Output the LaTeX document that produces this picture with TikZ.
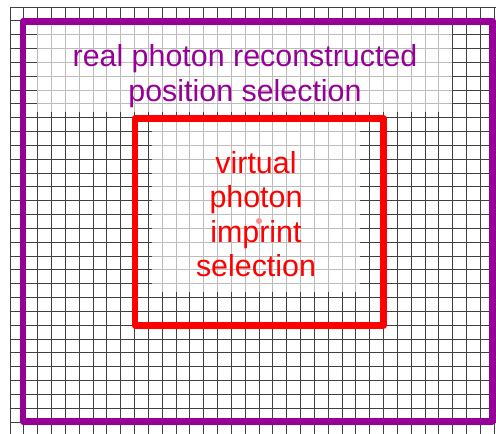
\documentclass[tikz,border=0pt]{standalone}
\usepackage{fontspec}
\setmainfont{Liberation Sans}
\usepackage{tikz}
\usetikzlibrary{positioning}
\usepackage{xcolor}
\definecolor{realcol}{RGB}{150,0,150}
\definecolor{virtcol}{RGB}{255,0,0}
\tikzset{
  gridln/.style={draw=black!75,line width=.7pt},
  haze/.style={fill=white,fill opacity=.65},
  selbox/.style={line width=6.5pt,line join=round},
  realbox/.style={selbox,draw=realcol},
  virtbox/.style={selbox,draw=virtcol},
  lbl/.style={align=center,inner sep=0pt,font=\fontsize{30.4}{34.4}\selectfont},
  reallbl/.style={lbl,text=realcol},
  virtlbl/.style={lbl,text=virtcol},
  ctrmark/.style={circle,fill=virtcol!45,inner sep=0pt,minimum size=6pt},
}

\begin{document}
\begin{tikzpicture}[x=1pt,y=-1pt]
  \useasboundingbox (0,0) rectangle (496,434);
  \fill[white] (0,0) rectangle (496,434);
  % detector cells
  \foreach \i in {0,...,35}
    \draw[gridln] (10+\i*13.83,7) -- (10+\i*13.83,434);
  \foreach \j in {0,...,30}
    \draw[gridln] (10,7+\j*13.83) -- (496,7+\j*13.83);
  % label backdrops
  \fill[haze] (37,25) rectangle (452,112);
  \fill[haze] (152,121) rectangle (360,292);
  % selections
  \draw[realbox] (23,21.5) rectangle (492.3,421.3);
  \draw[virtbox] (135,118.3) rectangle (383.5,325.3);
  \node[reallbl] (realsel) at (245,76)
    {real photon reconstructed\\position selection};
  \node[virtlbl] (virtsel) at (256,214.2)
    {virtual\\photon\\imprint\\selection};
  \node[ctrmark] (ctr) at (259,221) {};
\end{tikzpicture}
\end{document}
